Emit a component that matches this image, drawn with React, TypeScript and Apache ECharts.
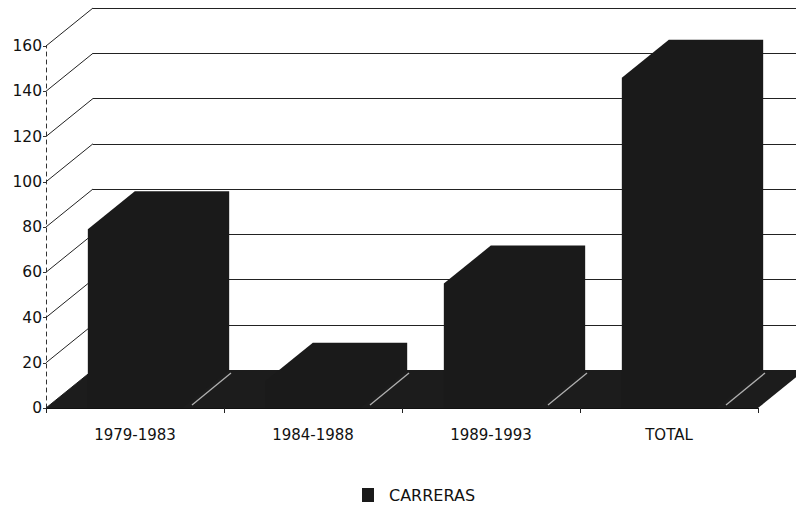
import React, { useEffect, useRef } from "react";
import * as echarts from "echarts";

const categories = ["1979-1983", "1984-1988", "1989-1993", "TOTAL"];
const carreras = [79, 12, 55, 146];
const yTicks = [0, 20, 40, 60, 80, 100, 120, 140, 160];
const seriesName = "CARRERAS";

const DX = 47;
const DY = -38;
const FONT = "DejaVu Sans";

export default function App() {
  const ref = useRef<HTMLDivElement>(null);
  useEffect(() => {
    if (!ref.current) return;
    const chart = echarts.init(ref.current, undefined, { renderer: "svg" });
    const option: any = {
      animation: false,
      backgroundColor: "#ffffff",
      grid: [
        { left: 46, right: 38, top: 46, bottom: 103 },
        { left: 46 + DX, right: 38 - DX, top: 46 + DY, bottom: 103 - DY },
      ],
      xAxis: [
        {
          type: "category",
          gridIndex: 0,
          data: categories,
          axisLine: { show: true, lineStyle: { color: "#111", width: 1 } },
          axisTick: { show: true, length: 5, lineStyle: { color: "#222" } },
          axisLabel: { fontFamily: FONT, fontSize: 15, color: "#111", margin: 19 },
          splitLine: { show: false },
        },
        {
          type: "category",
          gridIndex: 1,
          data: categories,
          show: false,
        },
      ],
      yAxis: [
        {
          type: "value",
          gridIndex: 0,
          min: 0,
          max: 160,
          interval: 20,
          axisLine: { show: true, lineStyle: { color: "#333", type: [4, 4], width: 1 } },
          axisTick: { show: true, length: 3, lineStyle: { color: "#333" } },
          axisLabel: { fontFamily: FONT, fontSize: 15.5, color: "#111", margin: 4 },
          splitLine: { show: false },
        },
        {
          type: "value",
          gridIndex: 1,
          min: 0,
          max: 160,
          interval: 20,
          axisLine: { show: false },
          axisTick: { show: false },
          axisLabel: { show: false },
          splitLine: { show: true, lineStyle: { color: "#222", width: 1 } },
        },
      ],
      legend: {
        data: [seriesName],
        left: 357,
        top: 482,
        icon: "rect",
        itemWidth: 12,
        itemHeight: 14,
        textStyle: { fontFamily: FONT, fontSize: 16, color: "#111", padding: [0, 0, 0, 10] },
      },
      series: [
        {
          type: "custom",
          name: "diagonals",
          xAxisIndex: 0,
          yAxisIndex: 0,
          clip: false,
          z: 1,
          silent: true,
          data: yTicks.map((v) => [0, v]),
          renderItem: (params: any, api: any) => {
            const cs = params.coordSys;
            const p = api.coord([0, api.value(1)]);
            const x = cs.x;
            return {
              type: "line",
              shape: { x1: x, y1: p[1], x2: x + DX, y2: p[1] + DY },
              style: { stroke: "#222", lineWidth: 1 },
            };
          },
        },
        {
          type: "custom",
          name: "floor",
          xAxisIndex: 0,
          yAxisIndex: 0,
          clip: false,
          z: 2,
          silent: true,
          data: [[0, 0]],
          renderItem: (params: any, api: any) => {
            const cs = params.coordSys;
            const y0 = api.coord([0, 0])[1];
            const bw = api.size([1, 0])[0];
            const children: any[] = [
              {
                type: "polygon",
                shape: {
                  points: [
                    [cs.x, y0],
                    [cs.x + cs.width, y0],
                    [cs.x + cs.width + DX, y0 + DY],
                    [cs.x + DX, y0 + DY],
                  ],
                },
                style: { fill: "#1c1c1c" },
              },
            ];
            for (let i = 1; i <= categories.length; i++) {
              const bx = cs.x + i * bw;
              children.push({
                type: "line",
                shape: { x1: bx - 32, y1: y0 - 3, x2: bx + 7, y2: y0 + DY + 3 },
                style: { stroke: "#b0b0b0", lineWidth: 1.3 },
              });
            }
            return { type: "group", children };
          },
        },
        {
          type: "custom",
          name: seriesName,
          xAxisIndex: 0,
          yAxisIndex: 0,
          clip: false,
          z: 3,
          itemStyle: { color: "#1a1a1a" },
          data: carreras.map((v, i) => [i, v]),
          renderItem: (params: any, api: any) => {
            const i = api.value(0);
            const v = api.value(1);
            const top = api.coord([i, v]);
            const base = api.coord([i, 0]);
            const bw = api.size([1, 0])[0] * 0.53;
            const x0 = top[0] - bw / 2;
            const x1 = top[0] + bw / 2;
            return {
              type: "polygon",
              shape: {
                points: [
                  [x0, base[1]],
                  [x0, top[1]],
                  [x0 + DX, top[1] + DY],
                  [x1 + DX, top[1] + DY],
                  [x1 + DX, base[1] + DY],
                  [x1, base[1]],
                ],
              },
              style: { fill: "#1a1a1a" },
            };
          },
        },
      ],
    };
    chart.setOption(option);
    return () => chart.dispose();
  }, []);
  return (
    <div
      ref={ref}
      style={{ position: "fixed", left: 0, top: 0, width: 796, height: 511, background: "#fff" }}
    />
  );
}
